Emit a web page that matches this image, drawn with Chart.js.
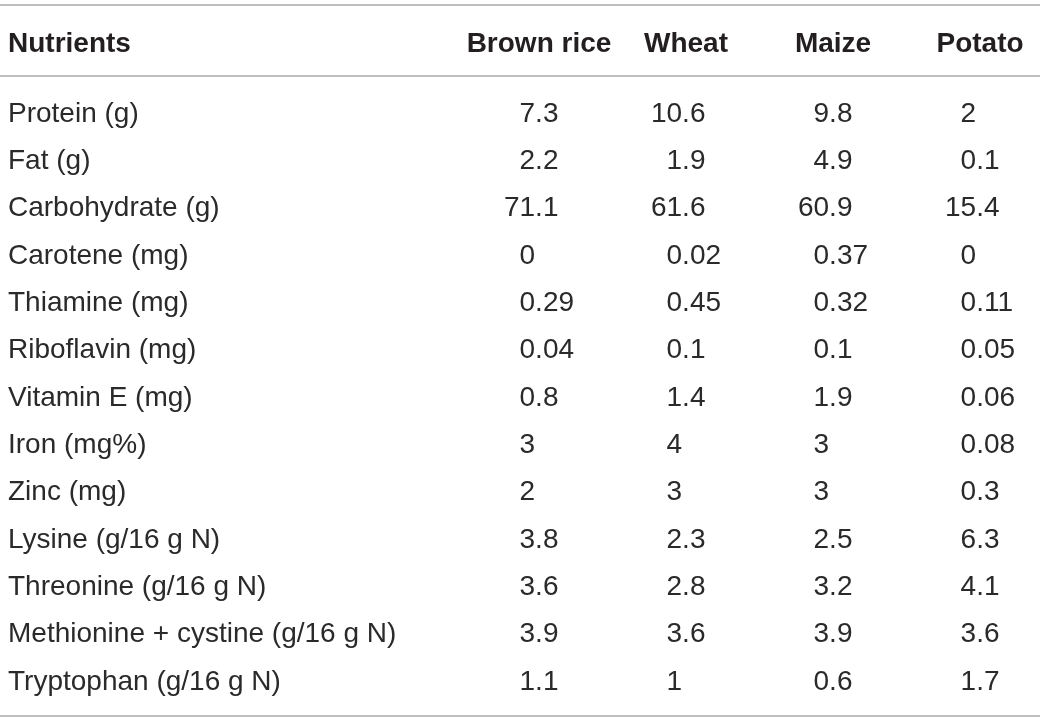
<!DOCTYPE html>
<html>
<head>
<meta charset="utf-8">
<script src="https://cdn.jsdelivr.net/npm/chart.js@4"></script>
<style>
  html, body { margin: 0; padding: 0; background: #fff; }
  canvas { display: block; }
</style>
</head>
<body>
<canvas id="myChart" width="1040" height="722"></canvas>
<script>
let firstHeader = "Nutrients";
let crops = ["Brown rice", "Wheat", "Maize", "Potato"];
let nutrients = [
  "Protein (g)",
  "Fat (g)",
  "Carbohydrate (g)",
  "Carotene (mg)",
  "Thiamine (mg)",
  "Riboflavin (mg)",
  "Vitamin E (mg)",
  "Iron (mg%)",
  "Zinc (mg)",
  "Lysine (g/16 g N)",
  "Threonine (g/16 g N)",
  "Methionine + cystine (g/16 g N)",
  "Tryptophan (g/16 g N)"
];

let brownRice = [7.3, 2.2, 71.1, 0, 0.29, 0.04, 0.8, 3, 2, 3.8, 3.6, 3.9, 1.1];
let wheat = [10.6, 1.9, 61.6, 0.02, 0.45, 0.1, 1.4, 4, 3, 2.3, 2.8, 3.6, 1];
let maize = [9.8, 4.9, 60.9, 0.37, 0.32, 0.1, 1.9, 3, 3, 2.5, 3.2, 3.9, 0.6];
let potato = [2, 0.1, 15.4, 0, 0.11, 0.05, 0.06, 0.08, 0.3, 6.3, 4.1, 3.6, 1.7];

let series = [brownRice, wheat, maize, potato];

const textColor = "#231f20";
const bodyColor = "#2a2a2a";
const ruleColor = "#a9a9a9";
const fontFamily = "'Liberation Sans', Arial, Helvetica, sans-serif";
const bodySize = 28;
const headSize = 28;

// draws the cell numbers at each (hidden) point, lined up on the decimal point
const cellText = {
  id: "cellText",
  afterDatasetsDraw(chart) {
    const ctx = chart.ctx;
    ctx.save();
    ctx.fillStyle = bodyColor;
    ctx.font = `${bodySize}px ${fontFamily}`;
    ctx.textBaseline = "middle";
    const dot = ctx.measureText(".").width;
    chart.data.datasets.forEach((ds, di) => {
      const meta = chart.getDatasetMeta(di);
      meta.data.forEach((pt, i) => {
        const txt = String(ds.data[i].v);
        const parts = txt.split(".");
        const x = pt.x - dot / 2;
        ctx.textAlign = "right";
        ctx.fillText(parts[0], x, pt.y);
        if (parts.length > 1) {
          ctx.textAlign = "left";
          ctx.fillText("." + parts[1], x, pt.y);
        }
      });
    });
    ctx.restore();
  }
};

// horizontal rules and the first header cell
const tableFrame = {
  id: "tableFrame",
  afterDraw(chart) {
    const ctx = chart.ctx;
    const area = chart.chartArea;
    const xs = chart.scales.x;
    const ys = chart.scales.y;
    ctx.save();
    ctx.strokeStyle = ruleColor;
    ctx.lineWidth = 1.6;
    [xs.top + 5, area.top, area.bottom].forEach((yy) => {
      ctx.beginPath();
      ctx.moveTo(0, yy);
      ctx.lineTo(chart.width, yy);
      ctx.stroke();
    });
    ctx.fillStyle = textColor;
    ctx.font = `bold ${headSize}px ${fontFamily}`;
    ctx.textAlign = "left";
    ctx.textBaseline = "middle";
    const headY = xs.bottom - xs.options.ticks.padding - (headSize * 1.2) / 2;
    ctx.fillText(firstHeader, ys.left, headY);
    ctx.restore();
  }
};

const PlotTable = () => {
  const ctx = document.getElementById("myChart");

  new Chart(ctx, {
    type: "scatter",
    data: {
      datasets: series.map((vals, ci) => ({
        label: crops[ci],
        data: vals.map((v, ri) => ({ x: ci, y: ri, v: v })),
        pointRadius: 0,
        pointHoverRadius: 0
      }))
    },
    options: {
      responsive: false,
      animation: false,
      events: [],
      layout: { padding: { left: 8, right: 0, top: 0, bottom: 6 } },
      plugins: {
        legend: { display: false },
        tooltip: { enabled: false }
      },
      scales: {
        x: {
          type: "linear",
          position: "top",
          min: -0.721,
          max: 3.408,
          afterBuildTicks: (scale) => {
            scale.ticks = crops.map((c, i) => ({ value: i }));
          },
          afterFit: (scale) => {
            scale.height = 76;
          },
          ticks: {
            callback: (value) => crops[value],
            color: textColor,
            font: { family: fontFamily, size: headSize, weight: "bold" },
            padding: 15,
            maxRotation: 0,
            autoSkip: false
          },
          grid: { display: false, drawTicks: false },
          border: { display: false }
        },
        y: {
          type: "linear",
          reverse: true,
          min: -0.8,
          max: 12.72,
          afterBuildTicks: (scale) => {
            scale.ticks = nutrients.map((n, i) => ({ value: i }));
          },
          afterFit: (scale) => {
            scale.width = 425;
            scale.paddingTop = 0;
            scale.paddingBottom = 0;
          },
          ticks: {
            callback: (value) => nutrients[value],
            color: bodyColor,
            font: { family: fontFamily, size: bodySize },
            crossAlign: "far",
            autoSkip: false
          },
          grid: { display: false, drawTicks: false },
          border: { display: false }
        }
      }
    },
    plugins: [cellText, tableFrame]
  });
};

window.onload = () => {
  PlotTable();
};
</script>
</body>
</html>
